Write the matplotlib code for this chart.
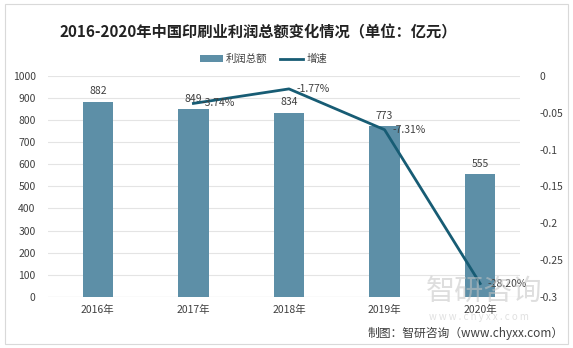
import matplotlib.pyplot as plt
import numpy as np
from matplotlib.patches import Rectangle

plt.rcParams["font.family"] = ["Noto Sans CJK SC", "DejaVu Sans"]

years = ["2016年", "2017年", "2018年", "2019年", "2020年"]
profit = [882, 849, 834, 773, 555]
growth_years = ["2017年", "2018年", "2019年", "2020年"]
growth = [-0.0374, -0.0177, -0.0731, -0.2820]
right_ticks = [0, -0.05, -0.1, -0.15, -0.2, -0.25, -0.3]
right_labels = ["0", "-0.05", "-0.1", "-0.15", "-0.2", "-0.25", "-0.3"]

bar_color = "#5d8fa7"
line_color = "#175c74"
text_color = "#404040"

fig = plt.figure(figsize=(5.73, 3.48), dpi=100)
fig.patches.append(Rectangle((0.008, 0.012), 0.984, 0.976, transform=fig.transFigure,
                             fill=False, edgecolor="#d9d9d9", linewidth=0.8))

ax = fig.add_axes([0.084, 0.147, 0.824, 0.635])
x = np.arange(len(years))
ax.bar(x, profit, width=0.32, color=bar_color, zorder=2, label="利润总额")
for xi, v in zip(x, profit):
    ax.text(xi, v + 25, str(v), ha="center", va="bottom", fontsize=7.5, color=text_color, zorder=5)

ax.set_ylim(0, 1000)
ax.set_yticks(range(0, 1001, 100))
ax.set_xlim(-0.52, 4.42)
ax.set_xticks(x)
ax.set_xticklabels(years)
ax.grid(axis="y", color="#e4e4e4", linewidth=0.8, zorder=0)
for s in ax.spines.values():
    s.set_visible(False)
ax.axhline(0, color="#d9d9d9", linewidth=0.8, zorder=1)
ax.tick_params(axis="both", length=0, labelsize=7.5, colors=text_color)
ax.tick_params(axis="y", pad=9)
ax.tick_params(axis="x", pad=6)

ax2 = ax.twinx()
gx = [years.index(y) for y in growth_years]
ax2.plot(gx, growth, color=line_color, linewidth=2, zorder=4, label="增速")
for xi, g in zip(gx, growth):
    ax2.text(xi + 0.08, g, f"{g * 100:.2f}%", ha="left", va="center",
             fontsize=7.5, color=text_color, zorder=5)
ax2.set_ylim(-0.3, 0)
ax2.set_yticks(right_ticks)
ax2.set_yticklabels(right_labels)
for s in ax2.spines.values():
    s.set_visible(False)
ax2.tick_params(axis="y", length=0, labelsize=7.5, colors=text_color, pad=14)

h1, l1 = ax.get_legend_handles_labels()
h2, l2 = ax2.get_legend_handles_labels()
fig.legend(h1 + h2, l1 + l2, loc="center", bbox_to_anchor=(0.46, 0.83), ncol=2,
           frameon=False, fontsize=7.5, handlelength=2.2, handleheight=0.6,
           columnspacing=1.2, handletextpad=0.3, labelcolor=text_color)

fig.text(0.45, 0.908, "2016-2020年中国印刷业利润总额变化情况（单位：亿元）", ha="center", va="center",
         fontsize=11, fontweight="bold", color="#222222")

# watermark
fig.text(0.845, 0.16, "智研咨询", ha="center", va="center", fontsize=21,
         color="#c4c4c4", alpha=0.55, zorder=0)
fig.text(0.835, 0.088, "w w w . c h y x x . c o m", ha="center", va="center", fontsize=7,
         color="#c8c8c8", alpha=0.55)
fig.text(0.983, 0.043, "制图：智研咨询（www.chyxx.com）", ha="right", va="center",
         fontsize=8.5, color="#404040")

fig.savefig("out.png", dpi=100)
